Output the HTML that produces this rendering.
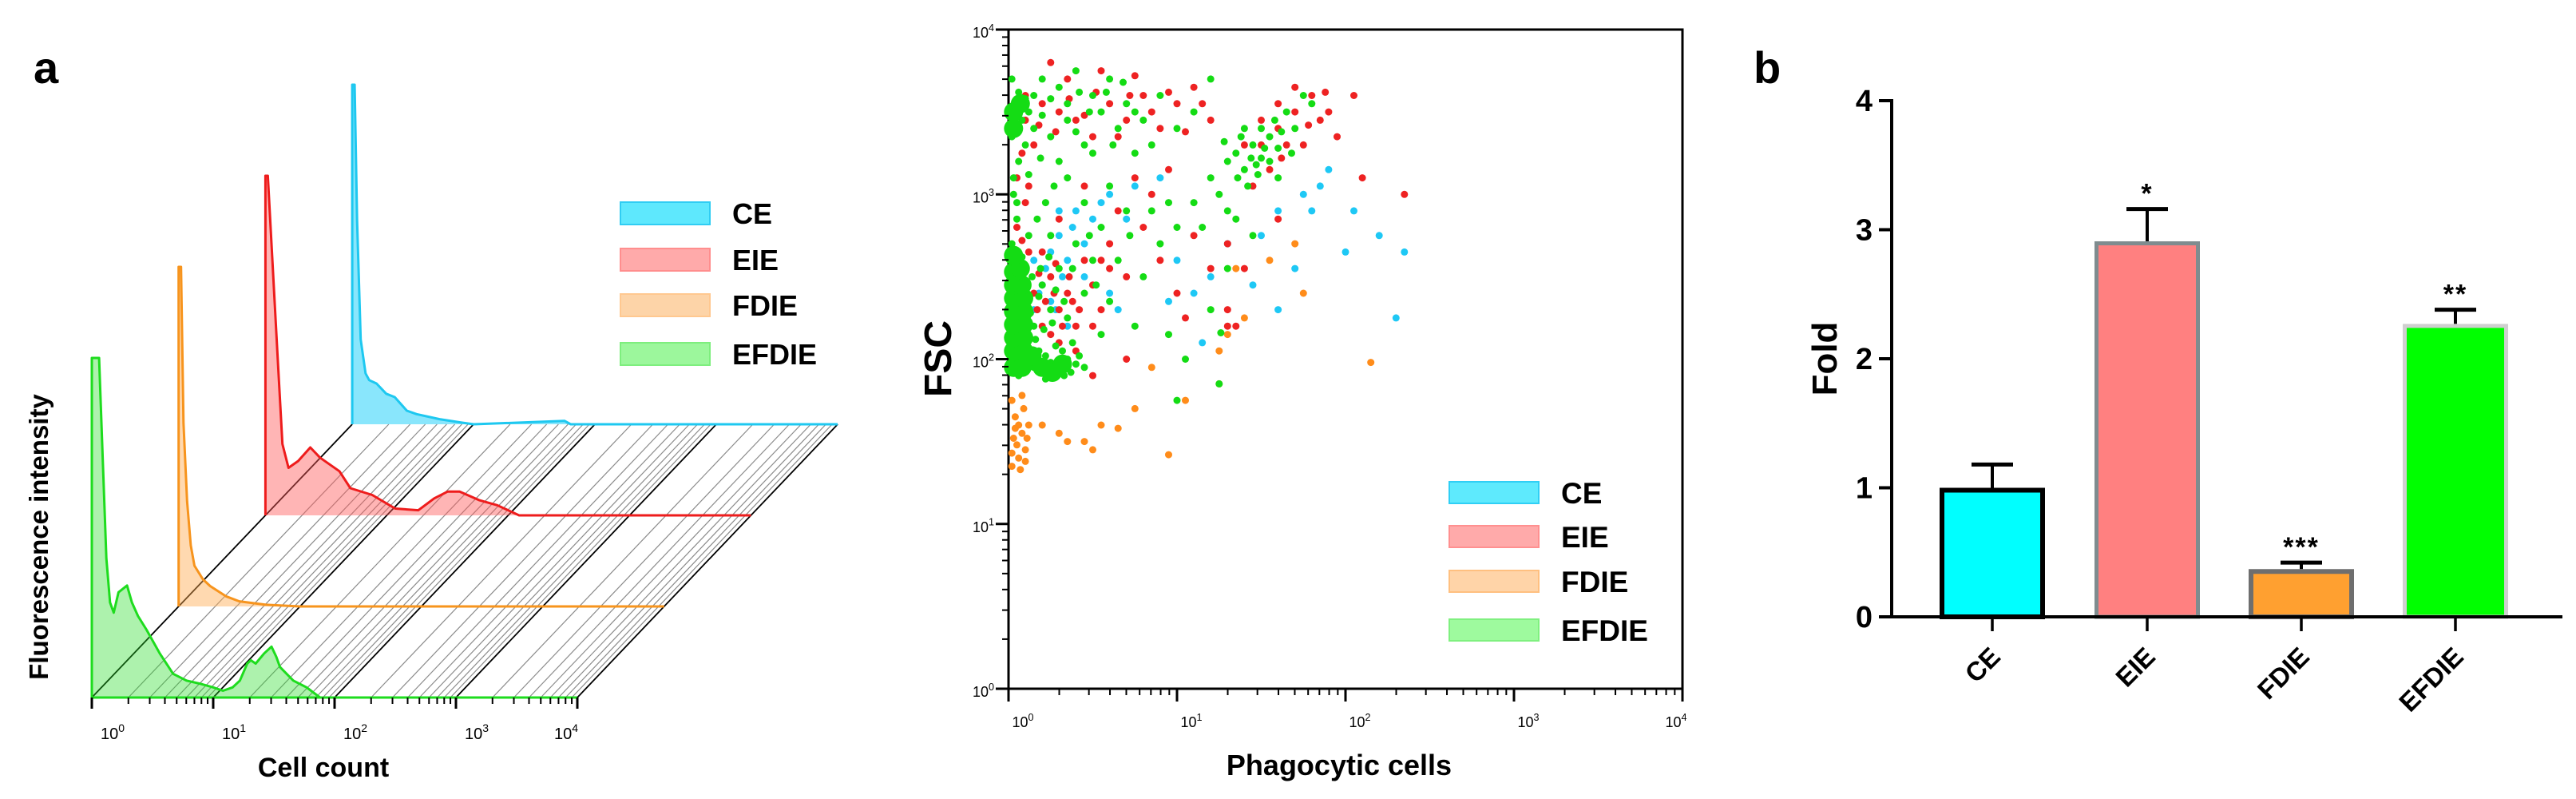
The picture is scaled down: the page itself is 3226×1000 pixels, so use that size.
<!DOCTYPE html>
<html><head><meta charset="utf-8"><style>
html,body{margin:0;padding:0;background:#fff;}
svg{display:block;font-family:"Liberation Sans",Arial,sans-serif;}
</style></head><body>
<svg id="fig" width="3226" height="1000" viewBox="0 0 3226 1000" xmlns="http://www.w3.org/2000/svg">
<g id="panelA"></g>
<g id="panelS"></g>
<g id="panelB"></g>
</svg>
<script>
// ---------- Panel a data: histogram profiles [log10 value, % of max]
const histNames = ["EFDIE","FDIE","EIE","CE"];
const histGreen = [[0,100],[0.06,100],[0.09,70],[0.12,41],[0.15,28],[0.18,25],[0.22,31],[0.29,33],[0.33,28],[0.38,24],[0.45,20],[0.56,13],[0.67,7],[0.78,5],[0.9,4],[1.0,3],[1.08,2],[1.16,3],[1.22,5],[1.28,10],[1.31,11],[1.35,10],[1.42,13],[1.48,15],[1.52,12],[1.55,9],[1.66,5],[1.77,3],[1.88,0],[4,0]];
const histOrange = [[0,100],[0.02,100],[0.04,54],[0.07,31],[0.1,18],[0.13,12],[0.2,8],[0.26,6],[0.39,3],[0.5,1.5],[0.72,0.5],[1.0,0],[4,0]];
const histRed = [[0,100],[0.02,100],[0.05,80],[0.08,60],[0.10,47],[0.14,21],[0.19,14],[0.27,16],[0.37,20],[0.45,17],[0.61,13],[0.70,8],[0.88,6],[1.07,2],[1.26,1.5],[1.39,5],[1.5,7],[1.6,7],[1.76,4.5],[1.91,3],[2.09,0],[4,0]];
const histCyan = [[0,100],[0.02,100],[0.04,60],[0.07,25],[0.11,15],[0.14,13],[0.2,12],[0.28,9],[0.35,8],[0.45,4],[0.53,3],[0.72,1.5],[0.9,0.5],[1.0,0],[1.75,1],[1.8,0],[4,0]];
const histTicks = ["0","1","2","3","4"];

// ---------- Scatter data [log10 x, log10 y]
const scatGreen = [[0.02,2.0],[0.06,2.0],[0.1,2.02],[0.03,2.08],[0.08,2.1],[0.12,2.06],[0.02,2.16],[0.06,2.18],[0.1,2.15],[0.04,2.25],[0.08,2.27],[0.12,2.22],[0.02,2.33],[0.06,2.35],[0.1,2.32],[0.04,2.42],[0.09,2.45],[0.02,2.5],[0.06,2.52],[0.03,2.6],[0.08,2.62],[0.02,2.7],[0.05,2.85],[0.03,3.0],[0.06,3.2],[0.02,3.35],[0.08,3.45],[0.04,3.55],[0.1,3.58],[0.06,3.62],[0.02,3.7],[0.12,3.5],[0.15,3.6],[0.02,1.92],[0.06,1.9],[0.1,1.96],[0.04,2.55],[0.1,2.4],[0.03,3.1],[0.05,2.95],
[0.15,1.95],[0.2,1.92],[0.25,1.98],[0.3,1.93],[0.35,2.0],[0.4,1.97],[0.18,2.05],[0.28,2.08],[0.33,1.9],[0.22,1.88],[0.45,1.95],[0.38,2.1],
[0.15,2.2],[0.25,2.3],[0.35,2.25],[0.45,2.4],[0.2,2.45],[0.3,2.55],[0.5,2.6],[0.6,2.35],[0.4,2.7],[0.25,2.75],[0.55,2.8],[0.7,2.9],[0.45,2.95],[0.6,3.05],[0.35,3.1],[0.8,2.5],[0.9,2.7],[1.0,2.8],[1.1,2.95],[0.75,2.2],[0.95,2.15],[1.2,2.3],[1.3,2.55],[1.45,2.75],[0.55,2.15],[1.05,2.0],[1.25,1.85],[1.0,1.75],[1.26,2.16],
[0.2,3.7],[0.3,3.65],[0.4,3.75],[0.5,3.6],[0.6,3.7],[0.7,3.55],[0.15,3.4],[0.25,3.35],[0.35,3.45],[0.45,3.3],[0.55,3.5],[0.65,3.4],[0.8,3.45],[0.9,3.6],[1.0,3.4],[0.75,3.25],[0.3,3.2],[0.5,3.25],[0.85,3.3],[1.1,3.5],[1.2,3.7],
[1.3,3.2],[1.35,3.25],[1.4,3.15],[1.45,3.3],[1.5,3.22],[1.55,3.35],[1.6,3.28],[1.42,3.05],[1.5,3.4],[1.58,3.45],[1.65,3.5],[1.7,3.4],[1.38,3.35],[1.47,3.18],[1.25,3.0],[1.3,2.9],[1.6,3.1],[1.75,3.6],[1.8,3.55],[1.2,3.1],[1.35,2.85],[1.44,3.22],[1.52,3.28],
[0.12,1.98],[0.17,2.0],[0.22,2.02],[0.27,1.95],[0.32,2.05],[0.37,1.92],[0.42,2.02],[0.16,2.12],[0.21,2.18],[0.26,2.22],[0.13,2.28],[0.18,2.38],[0.28,2.42],[0.33,2.35],[0.19,2.55],[0.14,2.5],[0.24,2.62],[0.12,2.75],[0.17,2.85],[0.22,2.95],[0.27,3.05],[0.12,3.12],[0.19,3.22],[0.1,3.3],[0.2,3.48],[0.25,3.58],[0.35,3.55],[0.42,3.62],[0.48,3.5],[0.58,3.62],[0.68,3.68],[0.75,3.5],[0.62,3.3],[0.4,3.38],[0.38,2.55],[0.48,2.75],[0.52,2.45],[0.65,2.6],[0.72,2.75],[0.85,2.9],[0.95,2.95],[1.15,2.8],[1.4,3.4],[1.48,3.12],[1.55,3.2],[1.62,3.38],[1.36,3.1],[1.28,3.32],[1.68,3.25]];
const scatGreenDense = [[0.03,1.95],[0.08,1.95],[0.03,2.05],[0.09,2.05],[0.03,2.13],[0.09,2.13],[0.03,2.21],[0.09,2.21],[0.03,2.29],[0.09,2.29],[0.03,2.37],[0.09,2.37],[0.03,2.45],[0.08,2.45],[0.03,2.53],[0.07,2.55],[0.03,2.63],[0.03,3.4],[0.03,3.5],[0.07,3.55],[0.2,1.95],[0.26,1.92],[0.32,1.97],[0.14,2.02]];
const scatRed = [[0.05,3.55],[0.1,3.45],[0.15,3.3],[0.05,3.1],[0.1,2.95],[0.05,2.8],[0.12,2.65],[0.2,3.55],[0.3,3.5],[0.4,3.45],[0.5,3.35],[0.6,3.55],[0.7,3.45],[0.8,3.6],[0.9,3.4],[1.0,3.55],[1.1,3.65],[1.2,3.45],[0.35,3.7],[0.55,3.75],[0.25,3.8],[0.75,3.72],
[0.2,2.2],[0.3,2.3],[0.4,2.2],[0.5,2.45],[0.25,2.5],[0.35,2.4],[0.45,2.6],[0.2,2.65],[0.6,2.7],[0.7,2.5],[0.55,2.3],[0.4,2.05],[0.3,2.1],[0.8,2.8],[0.9,2.6],[1.0,2.4],[1.1,2.75],[0.65,2.9],[0.85,3.0],[0.95,3.15],[1.2,2.55],[1.3,2.3],[1.05,2.25],[0.75,3.1],[0.45,3.05],[0.3,2.85],[0.15,2.4],[0.25,2.15],[0.38,2.35],
[1.4,3.3],[1.5,3.45],[1.6,3.55],[1.7,3.65],[1.8,3.6],[1.85,3.45],[1.55,3.15],[1.65,3.3],[1.45,3.05],[1.75,3.3],[1.9,3.5],[2.05,3.6],[1.95,3.35],[2.35,3.0],[1.6,2.85],[1.4,2.55],[1.3,2.7],[2.1,3.1],
[1.3,2.2],[1.35,2.2],[0.7,2.0],[0.5,1.9],
[0.1,3.6],[0.18,3.42],[0.28,3.38],[0.36,3.58],[0.45,3.48],[0.52,3.62],[0.65,3.35],[0.72,3.6],[0.85,3.5],[0.95,3.62],[1.05,3.38],[1.15,3.55],[0.08,3.25],[0.12,3.05],[0.08,2.72],[0.17,2.3],[0.22,2.35],[0.27,2.4],[0.32,2.2],[0.36,2.5],[0.42,2.3],[0.28,2.58],[0.18,2.52],[0.5,2.2],[0.6,2.55],[0.55,2.6],[1.6,3.4],[1.7,3.5],[1.78,3.42],[1.88,3.62],[1.5,3.3],[1.62,3.22]];
const scatCyan = [[0.15,2.6],[0.25,2.65],[0.3,2.75],[0.35,2.6],[0.45,2.7],[0.5,2.85],[0.4,2.9],[0.55,2.95],[0.3,2.9],[0.2,2.45],[0.25,2.35],[0.35,2.2],[0.15,2.3],[0.45,2.5],[0.6,3.0],[0.75,3.05],[0.7,2.85],[0.9,3.1],[1.0,2.6],[1.1,2.4],[0.65,2.3],[0.95,2.35],[1.2,2.5],[1.5,2.75],[1.6,2.9],[1.75,3.0],[1.8,2.9],[1.85,3.05],[1.9,3.15],[2.05,2.9],[1.7,2.55],[2.0,2.65],[2.2,2.75],[2.35,2.65],[1.3,2.7],[1.45,2.45],[1.6,2.3],[2.3,2.25],[1.15,2.1],[0.6,2.4],[0.22,2.55],[0.32,2.5],[0.38,2.8],[0.28,2.3],[0.18,2.4]];
const scatOrange = [[0.02,1.35],[0.06,1.4],[0.1,1.45],[0.03,1.52],[0.08,1.55],[0.12,1.6],[0.04,1.65],[0.09,1.7],[0.02,1.75],[0.06,1.6],[0.1,1.38],[0.05,1.48],[0.03,2.1],[0.07,2.3],[0.02,1.43],[0.07,1.33],[0.11,1.52],[0.04,1.58],[0.08,1.78],
[0.3,1.55],[0.35,1.5],[0.45,1.5],[0.55,1.6],[0.5,1.45],[0.65,1.58],[0.75,1.7],[0.95,1.42],[1.05,1.75],[0.85,1.95],[1.25,2.05],[1.3,2.15],[1.4,2.25],[1.55,2.6],[1.7,2.7],[1.75,2.4],[2.15,1.98],[1.35,2.55],[0.2,1.6],[1.25,1.85]];
const scatTicks = ["0","1","2","3","4"];

// ---------- Bar data
const barCats = ["CE","EIE","FDIE","EFDIE"];
const barVals = [1.0, 2.91, 0.37, 2.27];
const barErr = [0.18, 0.25, 0.05, 0.11];
const barStars = ["", "*", "***", "**"];
const barTicks = [0,1,2,3,4];

const NS="http://www.w3.org/2000/svg";
function mk(parent, tag, attrs, text){
  const e=document.createElementNS(NS,tag);
  for(const k in attrs) e.setAttribute(k,attrs[k]);
  if(text!==undefined) e.textContent=text;
  parent.appendChild(e); return e;
}
function pow10Label(parent,x,y,exp,size,anchor){
  const t=mk(parent,"text",{x:x,y:y,"font-size":size,"text-anchor":anchor||"middle",fill:"#000"});
  const a=document.createElementNS(NS,"tspan"); a.textContent="10"; t.appendChild(a);
  const b=document.createElementNS(NS,"tspan"); b.setAttribute("dy",-size*0.45); b.setAttribute("font-size",size*0.7); b.textContent=exp; t.appendChild(b);
  return t;
}

// ================= Panel a =================
(function(){
  const g=document.getElementById("panelA");
  const X0=115, Y0=873, DEC=152, DX=108.7, DY=114, H=425;
  const xs=L=>X0+L*DEC;
  const lab=mk(g,"text",{x:42,y:104,"font-size":56,"font-weight":"bold"},"a");
   
  const hatch=mk(g,"g",{});
   
  for(let d=0; d<4; d++){
    for(let m=1;m<=9;m++){
      const L=d+Math.log10(m);
      const x=xs(L);
      mk(hatch,"line",{x1:x,y1:Y0,x2:x+3*DX,y2:Y0-3*DY,stroke:m===1?"#000":"#8a8a8a","stroke-width":m===1?1.8:1.2});
    }
  }
  mk(hatch,"line",{x1:xs(4),y1:Y0,x2:xs(4)+3*DX,y2:Y0-3*DY,stroke:"#000","stroke-width":1.8});
  const layers=[
    {d:histCyan,k:3,fill:"rgba(40,210,250,0.55)",stroke:"#1ec8f0",name:"histogram-ce"},
    {d:histRed,k:2,fill:"rgba(255,90,90,0.45)",stroke:"#ee1c1c",name:"histogram-eie"},
    {d:histOrange,k:1,fill:"rgba(255,170,80,0.45)",stroke:"#f7941d",name:"histogram-fdie"},
    {d:histGreen,k:0,fill:"rgba(40,220,40,0.38)",stroke:"#1edc1e",name:"histogram-efdie"}
  ];
  layers.forEach(l=>{
    const ox=X0+l.k*DX, oy=Y0-l.k*DY;
    let pts=[[ox,oy]];
    l.d.forEach(p=>pts.push([ox+p[0]*DEC, oy-p[1]/100*H]));
    pts.push([ox+4*DEC,oy]);
    const s=pts.map(p=>p[0].toFixed(1)+","+p[1].toFixed(1)).join(" ");
    const poly=mk(g,"polygon",{points:s,fill:l.fill,stroke:"none"});
     
    const line=mk(g,"polyline",{points:s,fill:"none",stroke:l.stroke,"stroke-width":3,"stroke-linejoin":"round"});
     
  });
  const ax=mk(g,"g",{});
   
  mk(ax,"line",{x1:X0,y1:Y0,x2:xs(4),y2:Y0,stroke:"#1edc1e","stroke-width":3});
  for(let d=0; d<4; d++){
    for(let m=1;m<=9;m++){
      const x=xs(d+Math.log10(m));
      mk(ax,"line",{x1:x,y1:Y0,x2:x,y2:Y0+(m===1?14:8),stroke:"#000","stroke-width":m===1?3:2});
    }
  }
  mk(ax,"line",{x1:xs(4),y1:Y0,x2:xs(4),y2:Y0+14,stroke:"#000","stroke-width":3});
  histTicks.forEach((t,i)=>{
    const tl=pow10Label(ax, i===4? xs(i)-14 : xs(i)+26, 925, t, 20);
     
  });
  const xt=mk(g,"text",{x:405,y:972,"font-size":34,"font-weight":"bold","text-anchor":"middle"},"Cell count");
   
  const yt=mk(g,"text",{x:0,y:0,"font-size":33,"font-weight":"bold","text-anchor":"middle",transform:"translate(60,672) rotate(-90)"},"Fluorescence intensity");
   
  const leg=[["CE","#5ee8fd","#30cdf3"],["EIE","#ffaaaa","#ff8e8e"],["FDIE","#fdd4a8","#ffc890"],["EFDIE","#9cf79c","#7eee7e"]];
  const ly=[253,311,368,429];
  leg.forEach((e,i)=>{
    const gg=mk(g,"g",{});
     
    mk(gg,"rect",{x:777,y:ly[i],width:112,height:28,fill:e[1],stroke:e[2],"stroke-width":2});
    mk(gg,"text",{x:917,y:ly[i]+27,"font-size":36,"font-weight":"bold"},e[0]);
  });
})();

// ================= Scatter =================
(function(){
  const g=document.getElementById("panelS");
  const L=1263,R=2107,T=37,B=862;
  const xs=v=>L+v*(R-L)/4, ys=v=>B-v*(B-T)/4;
  const fr=mk(g,"rect",{x:L,y:T,width:R-L,height:B-T,fill:"none",stroke:"#000","stroke-width":3});
   
  const series=[
    {d:scatOrange,c:"#ff8c1a",n:"scatter-fdie",r:4.5},
    {d:scatCyan,c:"#1ec8f5",n:"scatter-ce",r:4.5},
    {d:scatRed,c:"#ee2222",n:"scatter-eie",r:4.5},
    {d:scatGreen,c:"#14dc14",n:"scatter-efdie",r:4.5},
    {d:scatGreenDense,c:"#14dc14",n:"scatter-efdie-dense",r:12}
  ];
  series.forEach(s=>{
    const sg=mk(g,"g",{fill:s.c});
     
    s.d.forEach(p=>{
      const c=mk(sg,"circle",{cx:xs(p[0]).toFixed(1),cy:ys(p[1]).toFixed(1),r:s.r});
       
    });
  });
  const tg=mk(g,"g",{stroke:"#000"});
   
  for(let d=0; d<4; d++){
    for(let m=1;m<=9;m++){
      const lv=d+Math.log10(m), maj=m===1;
      mk(tg,"line",{x1:xs(lv),y1:B,x2:xs(lv),y2:B+(maj?16:8),"stroke-width":maj?3:2});
      mk(tg,"line",{x1:L,y1:ys(lv),x2:L-(maj?16:8),y2:ys(lv),"stroke-width":maj?3:2});
    }
  }
  mk(tg,"line",{x1:xs(4),y1:B,x2:xs(4),y2:B+16,"stroke-width":3});
  mk(tg,"line",{x1:L,y1:ys(4),x2:L-16,y2:ys(4),"stroke-width":3});
  scatTicks.forEach((t,i)=>{
    const a=pow10Label(g, xs(i)+(i===4?-8:18), 910, t, 18);
     
    const b=pow10Label(g, 1245, ys(i)+10, t, 18, "end");
     
  });
  const xt=mk(g,"text",{x:1677,y:970,"font-size":36,"font-weight":"bold","text-anchor":"middle"},"Phagocytic cells");
   
  const yt=mk(g,"text",{x:0,y:0,"font-size":48,"font-weight":"bold","text-anchor":"middle",transform:"translate(1191,449) rotate(-90)"},"FSC");
   
  const leg=[["CE","#5eeafd","#30cff5"],["EIE","#ffaaaa","#ff9090"],["FDIE","#ffd4a8","#ffc080"],["EFDIE","#9efa9e","#80f080"]];
  const ly=[603,658,714,775];
  leg.forEach((e,i)=>{
    const gg=mk(g,"g",{});
     
    mk(gg,"rect",{x:1815,y:ly[i],width:112,height:27,fill:e[1],stroke:e[2],"stroke-width":2});
    mk(gg,"text",{x:1955,y:ly[i]+27,"font-size":37,"font-weight":"bold"},e[0]);
  });
})();

// ================= Bar chart =================
(function(){
  const g=document.getElementById("panelB");
  const AX=2369, Y0=772, UNIT=161.5, XR=3209;
  const ys=v=>Y0-v*UNIT;
  const centers=[2495,2689,2882,3075], BW=132;
  const lab=mk(g,"text",{x:2196,y:104,"font-size":56,"font-weight":"bold"},"b");
   
  const styles=[
    {fill:"#00ffff",stroke:"#000",sw:6},
    {fill:"#ff8080",stroke:"#7f8c8f",sw:5},
    {fill:"#ffa030",stroke:"#6e6e6e",sw:6},
    {fill:"#00ff00",stroke:"#cfcfcf",sw:5}
  ];
  barVals.forEach((v,i)=>{
    const s=styles[i], cx=centers[i];
    const bg=mk(g,"g",{});
     
    mk(bg,"line",{x1:cx,y1:ys(v),x2:cx,y2:ys(v+barErr[i]),stroke:"#000","stroke-width":4});
    mk(bg,"line",{x1:cx-26,y1:ys(v+barErr[i]),x2:cx+26,y2:ys(v+barErr[i]),stroke:"#000","stroke-width":5});
    mk(bg,"rect",{x:cx-BW/2+s.sw/2,y:ys(v)+s.sw/2,width:BW-s.sw,height:v*UNIT-s.sw/2,fill:s.fill,stroke:s.stroke,"stroke-width":s.sw});
    if(barStars[i]){
      const st=mk(g,"text",{x:cx,y:ys(v+barErr[i])-8,"font-size":34,"font-weight":"bold","text-anchor":"middle","letter-spacing":2},barStars[i]);
       
    }
    mk(g,"line",{x1:cx,y1:Y0,x2:cx,y2:Y0+18,stroke:"#000","stroke-width":3.5});
    const t=mk(g,"text",{x:0,y:0,"font-size":33,"font-weight":"bold","text-anchor":"end",transform:`translate(${cx+12},${Y0+52}) rotate(-45)`},barCats[i]);
     
  });
  const axg=mk(g,"g",{stroke:"#000"});
   
  mk(axg,"line",{x1:AX,y1:ys(4)-2,x2:AX,y2:Y0+2,"stroke-width":4});
  mk(axg,"line",{x1:AX-16,y1:Y0,x2:XR,y2:Y0,"stroke-width":4});
  barTicks.forEach(t=>{
    mk(axg,"line",{x1:AX-16,y1:ys(t),x2:AX,y2:ys(t),"stroke-width":4});
    const tl=mk(g,"text",{x:AX-24,y:ys(t)+13,"font-size":38,"font-weight":"bold","text-anchor":"end"},String(t));
     
  });
  const yt=mk(g,"text",{x:0,y:0,"font-size":44,"font-weight":"bold","text-anchor":"middle",transform:"translate(2300,449) rotate(-90)"},"Fold");
   
})();
</script>
</body></html>
